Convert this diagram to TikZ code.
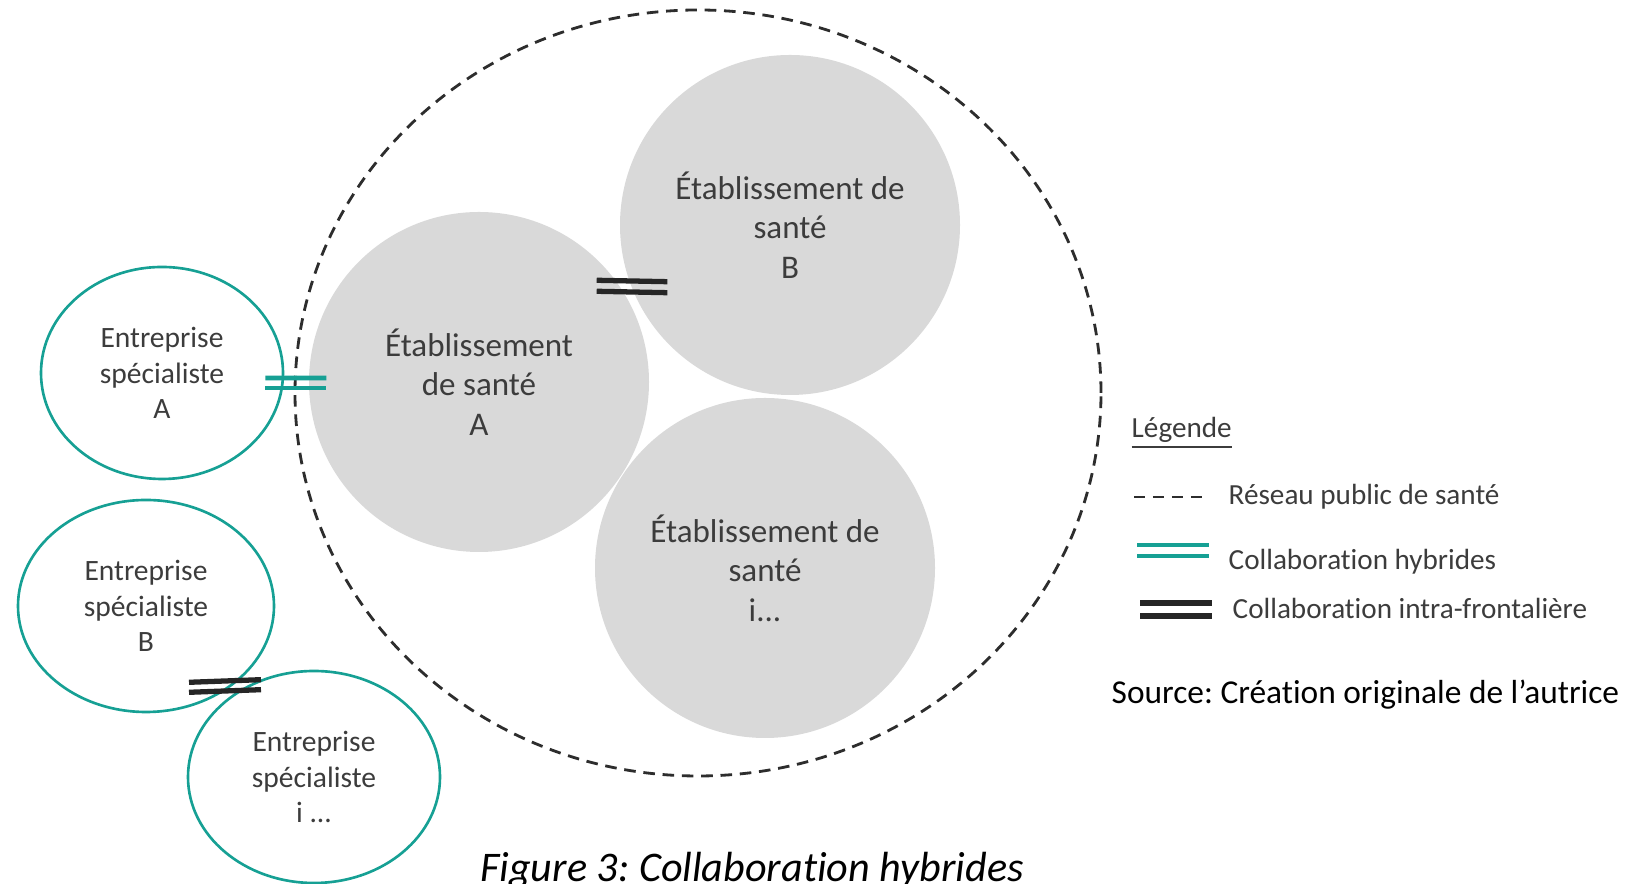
\documentclass[tikz,border=0pt]{standalone}
\usepackage{fontspec}
\setmainfont{Carlito}[Ligatures=NoCommon]
\usetikzlibrary{shapes.geometric}

\definecolor{tealline}{RGB}{22,160,148}
\definecolor{circgray}{RGB}{217,217,217}
\definecolor{txtgray}{RGB}{60,60,60}
\definecolor{dashgray}{RGB}{45,45,45}

\frenchspacing

\begin{document}
\begin{tikzpicture}[
    network/.style={ellipse,draw=dashgray,line width=0.8pt,dash pattern=on 3.3pt off 2.2pt,inner sep=0pt},
    etab node/.style={circle,fill=circgray,minimum size=3.4cm,inner sep=0pt,align=center,
                      text=txtgray,font=\fontsize{9.4}{11.2}\selectfont},
    ent node/.style={ellipse,draw=tealline,line width=0.75pt,minimum height=2.12cm,inner sep=0pt,
                     align=center,text=txtgray,font=\fontsize{8.4}{10.1}\selectfont},
    hybrid/.style={draw=tealline,line width=1.3pt},
    intra/.style={draw=black!85,line width=1.5pt},
    legend text/.style={anchor=west,inner sep=0pt,text=txtgray,font=\fontsize{8.3}{10}\selectfont}]

  \useasboundingbox (0,0) rectangle (16.34,8.84);

  % public network
  \node[network,minimum width=8.06cm,minimum height=7.66cm] (reseau) at (6.98,4.91) {};

  % health establishments
  \node[etab node] (etabA) at (4.79,5.02) {Établissement\\de santé\\A};
  \node[etab node] (etabB) at (7.90,6.59) {Établissement de\\santé\\B};
  \node[etab node] (etabI) at (7.65,3.16) {Établissement de\\santé\\i...};

  % specialised companies
  \node[ent node,minimum width=2.42cm] (entA) at (1.62,5.11) {Entreprise\\spécialiste\\A};
  \node[ent node,minimum width=2.56cm] (entB) at (1.46,2.78) {Entreprise\\spécialiste\\B};
  \node[ent node,minimum width=2.52cm] (entI) at (3.14,1.07) {Entreprise\\spécialiste\\i ...};

  % collaborations
  \path ([shift={(-0.19,-0.05)}]entA.east) edge[hybrid] ([shift={(0.18,0.04)}]etabA.west)
        ([shift={(-0.19,-0.15)}]entA.east) edge[hybrid] ([shift={(0.18,-0.06)}]etabA.west);
  \path ([shift={(-0.03,-0.19)}]etabA.north east) edge[intra] ([shift={(-0.02,0.64)}]etabB.south west)
        ([shift={(-0.03,-0.30)}]etabA.north east) edge[intra] ([shift={(-0.02,0.53)}]etabB.south west);
  \path ([shift={(0.43,0.31)}]entB.south) edge[intra] ([shift={(-0.53,-0.10)}]entI.north)
        ([shift={(0.43,0.21)}]entB.south) edge[intra] ([shift={(-0.53,-0.20)}]entI.north);

  % legend
  \node[legend text] (legT) at (11.31,4.51) {\underline{Légende}};
  \node[legend text] (legR) at (12.28,3.87) {Réseau public de santé};
  \node[legend text] (legH) at (12.28,3.22) {Collaboration hybrides};
  \node[legend text] (legI) at (12.32,2.76) {Collaboration intra-frontalière};

  \draw[dashgray,line width=0.75pt,dash pattern=on 3.1pt off 2.3pt]
    ([xshift=-0.94cm]legR.west) -- ([xshift=-0.26cm]legR.west);
  \path ([shift={(-0.91,0.17)}]legH.west) edge[hybrid] ([shift={(-0.19,0.17)}]legH.west)
        ([shift={(-0.91,0.06)}]legH.west) edge[hybrid] ([shift={(-0.19,0.06)}]legH.west);
  \path ([shift={(-0.92,0.05)}]legI.west) edge[intra] ([shift={(-0.20,0.05)}]legI.west)
        ([shift={(-0.92,-0.08)}]legI.west) edge[intra] ([shift={(-0.20,-0.08)}]legI.west);

  \node[anchor=west,inner sep=0pt,font=\fontsize{9.5}{11}\selectfont] (source) at (11.11,1.89)
    {Source: Création originale de l’autrice};

  % caption
  \node[anchor=base,inner sep=0pt,font=\fontsize{12}{14}\selectfont\itshape] (caption) at (7.52,0.02)
    {Figure 3: Collaboration hybrides};
\end{tikzpicture}
\end{document}
